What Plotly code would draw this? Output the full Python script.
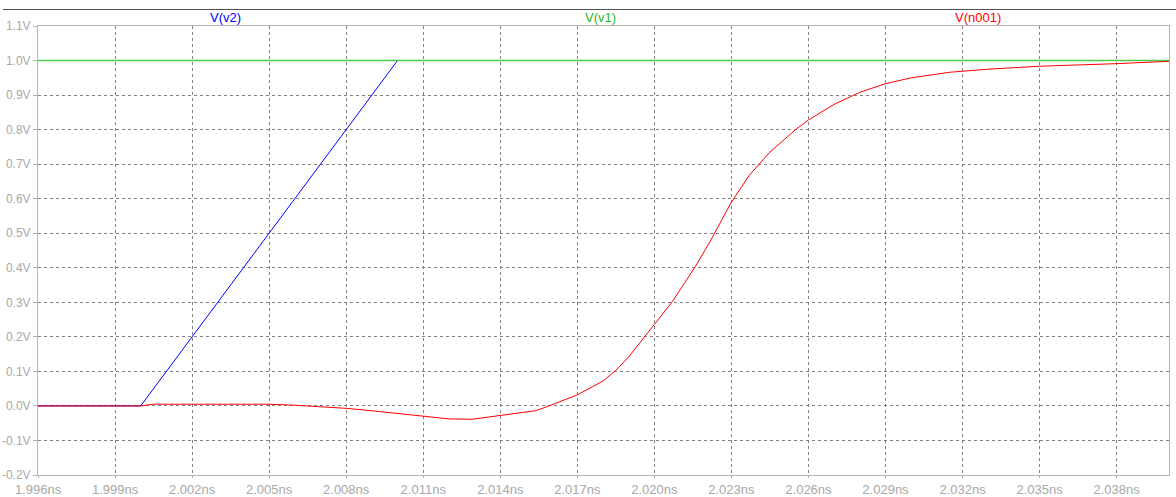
import plotly.graph_objects as go

# Transient waveforms (time in ns, voltage in V)
t_v1 = [1.996, 2.0401]
v_v1 = [1.0, 1.0]

t_v2 = [1.996, 2.000, 2.010]
v_v2 = [0.0, 0.0, 1.0]

t_n001 = [1.996, 2.000, 2.0005, 2.003, 2.005, 2.006, 2.007, 2.008, 2.009, 2.010,
          2.011, 2.012, 2.0129, 2.014, 2.0154, 2.0159, 2.017, 2.018, 2.0185, 2.019,
          2.020, 2.0207, 2.0216, 2.0222, 2.023, 2.0237, 2.0245, 2.0255, 2.026, 2.027,
          2.028, 2.029, 2.030, 2.0315, 2.033, 2.035, 2.038, 2.0401]
v_n001 = [0.0, 0.0, 0.005, 0.0058, 0.005, 0.002, -0.002, -0.007, -0.014, -0.022,
          -0.031, -0.0375, -0.0386, -0.028, -0.0136, 0.0, 0.032, 0.072, 0.103, 0.142,
          0.235, 0.302, 0.404, 0.48, 0.59, 0.668, 0.735, 0.80, 0.828, 0.873,
          0.908, 0.933, 0.95, 0.966, 0.975, 0.9835, 0.991, 0.998]

x_ticks = [1.996 + 0.003 * i for i in range(15)]
x_labels = [f"{v:.3f}ns" for v in x_ticks]
y_ticks = [round(-0.2 + 0.1 * i, 1) for i in range(14)]
y_labels = [f"{v:.1f}V" for v in y_ticks]

fig = go.Figure()
fig.add_trace(go.Scatter(x=t_v2, y=v_v2, mode="lines", line=dict(color="#0000ff", width=1), name="V(v2)"))
fig.add_trace(go.Scatter(x=t_v1, y=v_v1, mode="lines", line=dict(color="#4ccc4c", width=1.4), name="V(v1)"))
fig.add_trace(go.Scatter(x=t_n001, y=v_n001, mode="lines", line=dict(color="#ff0000", width=1), name="V(n001)"))

x_tick_font = dict(family="Liberation Sans, Arial, sans-serif", size=13, color="#a8a8a8")
y_tick_font = dict(family="Liberation Sans, Arial, sans-serif", size=12, color="#a8a8a8")

fig.update_layout(
    width=1176, height=497,
    margin=dict(l=38, r=7, t=26, b=22),
    paper_bgcolor="white", plot_bgcolor="white",
    showlegend=False,
    xaxis=dict(
        range=[1.996, 2.04004], tickmode="array", tickvals=x_ticks, ticktext=x_labels,
        showgrid=True, gridcolor="#808080", griddash="3px,3px", gridwidth=1,
        showline=True, linecolor="#b4b4b4", linewidth=1, mirror=True,
        ticks="outside", ticklen=2, tickcolor="#b4b4b4",
        tickfont=x_tick_font, zeroline=False, automargin=False,
    ),
    yaxis=dict(
        range=[-0.2, 1.1], tickmode="array", tickvals=y_ticks, ticktext=y_labels,
        showgrid=True, gridcolor="#808080", griddash="3px,3px", gridwidth=1,
        showline=True, linecolor="#b4b4b4", linewidth=1, mirror=True,
        ticks="outside", ticklen=4, tickcolor="#b4b4b4",
        tickfont=y_tick_font, zeroline=False, automargin=False,
    ),
)

# Separator line across the top of the window
fig.add_shape(type="line", xref="paper", yref="paper",
              x0=-0.031, x1=1.0065, y0=1.0367, y1=1.0367,
              line=dict(color="#505050", width=1.2))

label_font = "Liberation Sans, Arial, sans-serif"
for text, xpos, color in [("V(v2)", 2.0033, "#0000ff"), ("V(v1)", 2.0179, "#22bb22"), ("V(n001)", 2.0326, "#ff0000")]:
    fig.add_annotation(x=xpos, xref="x", y=1.02, yref="paper", text=text, showarrow=False,
                       font=dict(family=label_font, size=13, color=color), yanchor="middle")

fig.write_html("out.html")
